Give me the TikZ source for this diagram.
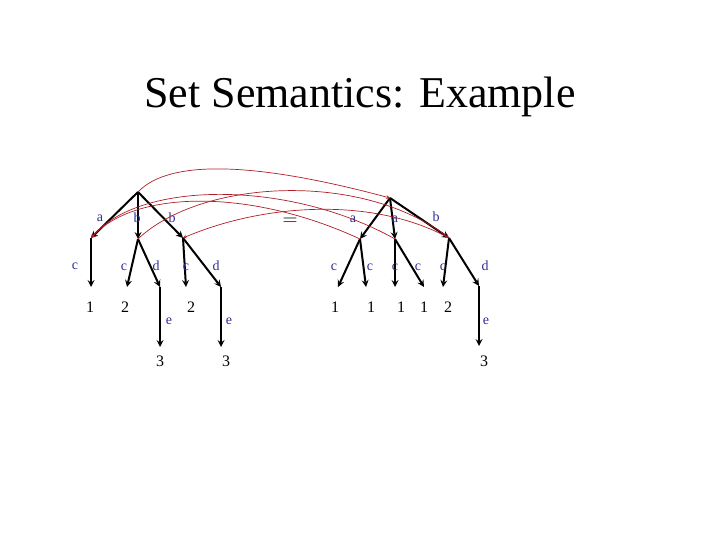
\documentclass[tikz,border=0pt]{standalone}
\usepackage{fontspec}
\setmainfont{Liberation Serif}
\definecolor{labelblue}{RGB}{45,45,150}
\definecolor{linkred}{RGB}{175,30,40}
\begin{document}
\begin{tikzpicture}[x=1pt, y=-1pt, line join=round, >=stealth,
	edge/.style={->, line width=2pt, black},
	link/.style={->, linkred, line width=0.7pt},
	lab/.style={text=labelblue, font=\fontsize{14}{14}\selectfont, inner sep=0pt},
	leaf/.style={font=\fontsize{16}{16}\selectfont, inner sep=0pt}]

				\useasboundingbox (0,0) rectangle (720,540);
				% Tiêu đề
				\node[font=\fontsize{44}{44}\selectfont, anchor=base] (title) at (360,108) {Set Semantics: Example};

				% Cây bên trái
				\coordinate (LR) at (138,192);
				\coordinate (La) at (91,238);
				\coordinate (Lb1) at (138,239);
				\coordinate (Lb2) at (183,238);
				\coordinate (Lac) at (91,287);
				\coordinate (Lb1c) at (127,287);
				\coordinate (Lb1d) at (160,287);
				\coordinate (Lb1e) at (160,347);
				\coordinate (Lb2c) at (186,287);
				\coordinate (Lb2d) at (221,287);
				\coordinate (Lb2e) at (221,347);
				% Cây bên phải
				\coordinate (RR) at (390,198);
				\coordinate (Ra1) at (360,239);
				\coordinate (Ra2) at (395,239);
				\coordinate (Rb) at (449,238);
				\coordinate (Ra1c) at (338,287);
				\coordinate (Ra1k) at (366,287);
				\coordinate (Ra2c) at (395,287);
				\coordinate (Ra2k) at (424,287);
				\coordinate (Rbc) at (443,287);
				\coordinate (Rbd) at (479,286);
				\coordinate (Rbe) at (479,346);

				% Vẽ các cạnh
				\foreach \from/\to in {LR/La, LR/Lb1, LR/Lb2, La/Lac, Lb1/Lb1c, Lb1/Lb1d, Lb1d/Lb1e,
					Lb2/Lb2c, Lb2/Lb2d, Lb2d/Lb2e, RR/Ra1, RR/Ra2, RR/Rb, Ra1/Ra1c, Ra1/Ra1k,
					Ra2/Ra2c, Ra2/Ra2k, Rb/Rbc, Rb/Rbd, Rbd/Rbe} {
					\draw[edge] (\from) -- (\to);
				}

				% Nhãn các cạnh
				\node[lab] (ta) at (100,218) {a};
				\node[lab] (tb1) at (137,218) {b};
				\node[lab] (tb2) at (172,218) {b};
				\node[lab] (tac) at (75,266) {c};
				\node[lab] (tb1c) at (124,267) {c};
				\node[lab] (tb1d) at (156,266) {d};
				\node[lab] (tb1e) at (169,321) {e};
				\node[lab] (tb2c) at (186,267) {c};
				\node[lab] (tb2d) at (216,266) {d};
				\node[lab] (tb2e) at (229,321) {e};
				\node[lab] (sa1) at (353,219) {a};
				\node[lab] (sa2) at (395,219) {a};
				\node[lab] (sb) at (436,217) {b};
				\node[lab] (sa1c) at (334,267) {c};
				\node[lab] (sa1k) at (370,267) {c};
				\node[lab] (sa2c) at (395,267) {c};
				\node[lab] (sa2k) at (418,267) {c};
				\node[lab] (sbc) at (443,267) {c};
				\node[lab] (sbd) at (485,266) {d};
				\node[lab] (sbe) at (486,321) {e};

				% Giá trị ở lá
				\node[leaf] (v1) at (90,307) {1};
				\node[leaf] (v2) at (125,307) {2};
				\node[leaf] (v3) at (160,361) {3};
				\node[leaf] (v4) at (191,307) {2};
				\node[leaf] (v5) at (226,361) {3};
				\node[leaf] (w1) at (335,307) {1};
				\node[leaf] (w2) at (371,307) {1};
				\node[leaf] (w3) at (401,307) {1};
				\node[leaf] (w4) at (424,307) {1};
				\node[leaf] (w5) at (448,307) {2};
				\node[leaf] (w6) at (484,361) {3};

				\node[font=\fontsize{20}{20}\selectfont, inner sep=0pt] (eq) at (290,222) {$=$};

				% Các đường nối màu đỏ
				\draw[link] (LR) .. controls (170,158) and (260,163) .. (RR);
				\draw[link] (Ra2) .. controls (290,180) and (140,180) .. (La);
				\draw[link] (Ra1) .. controls (250,188) and (135,190) .. (La);
				\draw[link] (Lb1) .. controls (200,180) and (360,170) .. (Rb);
				\draw[link] (Rb) .. controls (370,195) and (260,205) .. (Lb2);

			\end{tikzpicture}
\end{document}
